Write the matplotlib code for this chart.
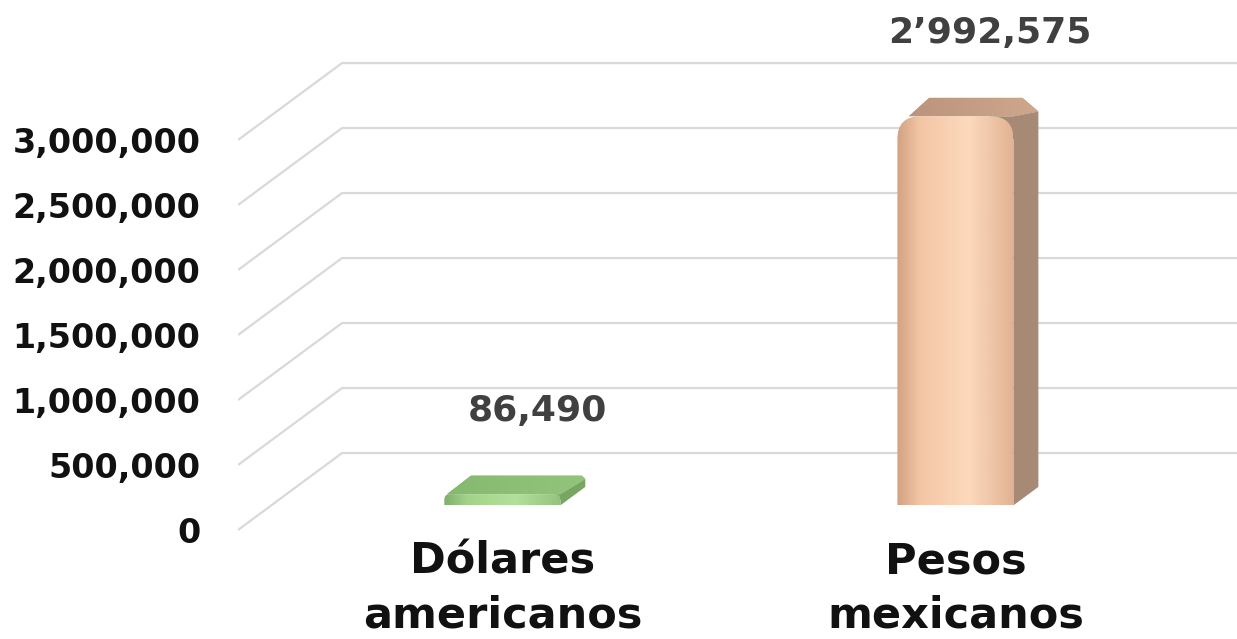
import numpy as np
import matplotlib
matplotlib.use("Agg")
import matplotlib.pyplot as plt
from matplotlib.patches import FancyBboxPatch, Polygon
from matplotlib.colors import LinearSegmentedColormap

# ==== DATA ====
categories = ["Dólares\namericanos", "Pesos\nmexicanos"]
values = [86490, 2992575]
value_labels = ["86,490", "2’992,575"]
yticks = [0, 500000, 1000000, 1500000, 2000000, 2500000, 3000000]
ytick_labels = ["0", "500,000", "1,000,000", "1,500,000", "2,000,000", "2,500,000", "3,000,000"]

# ==== STYLE ====
front_cols = [["#7fae69", "#a3d38b", "#b2e09a", "#95c47e"],
              ["#d2a283", "#f3c6a5", "#fdd9bd", "#e2b393"]]
top_cols = [["#86b970", "#93c47c"], ["#b8927a", "#cfa78c"]]
side_cols = ["#78a562", "#a68a75"]

DX = 0.2296      # depth of floor in x units
DY = 592000      # depth of floor in value units
D0 = 0.32        # bar start depth (fraction)
BD = 0.24        # bar depth (fraction)
W = 0.256        # bar width
ASP = 7692 * 453  # value units per x unit on screen

fig = plt.figure(figsize=(12.37, 6.39), dpi=100)
fig.patch.set_facecolor("white")
ax = fig.add_axes([238 / 1237, 0, 1 - 238 / 1237, 1])
ax.set_facecolor("none")
ax.set_xlim(-0.51, 1.695)
ax.set_ylim(-838500, 4077000)
for s in ax.spines.values():
    s.set_visible(False)
ax.set_xticks([])
ax.set_yticks(yticks)
ax.set_yticklabels(ytick_labels, fontsize=24, fontweight="bold", color="#111111")
ax.tick_params(axis="y", length=0, pad=27)

# perspective gridlines
x_left, x_right = ax.get_xlim()
for v in yticks:
    ax.plot([x_left, x_left + DX, x_right], [v, v + DY, v + DY],
            color="#d9d9d9", lw=1.6, zorder=1, solid_capstyle="butt")

grad = np.linspace(0, 1, 256).reshape(1, -1)

# bars
for i, (v, lab) in enumerate(zip(values, value_labels)):
    x0 = i + D0 * DX - W / 2
    y0 = D0 * DY
    bx, by = BD * DX, BD * DY
    r = min(0.05, v / ASP / 2 * 0.95)
    top_back = y0 + v + by
    ry = r * ASP

    # side face (small tab under the rounded front corner)
    side = Polygon([(x0 + W, y0), (x0 + W + bx, y0 + by),
                    (x0 + W + bx, top_back - ry * 0.6),
                    (x0 + W, y0 + v), (x0 + W - r, y0 + v),
                    (x0 + W - r, y0 + v - ry), (x0 + W, y0 + v - ry)],
                   closed=True, fc=side_cols[i], ec="none", zorder=3)
    ax.add_patch(side)

    # top face (rounded back)
    top = Polygon([(x0 + r * 0.5, y0 + v), (x0 + W, y0 + v),
                   (x0 + W + bx, top_back - ry * 0.6),
                   (x0 + W + bx - r * 0.7, top_back),
                   (x0 + bx + r * 0.3, top_back)],
                  closed=True, fc=top_cols[i][0], ec="none", zorder=3)
    ax.add_patch(top)
    tcmap = LinearSegmentedColormap.from_list("t%d" % i, top_cols[i])
    tim = ax.imshow(grad, cmap=tcmap, aspect="auto",
                    extent=(x0, x0 + W + bx, y0 + v, top_back),
                    zorder=3, interpolation="bilinear")
    tim.set_clip_path(top)

    # front face with gradient, rounded on top only
    box = FancyBboxPatch((x0, y0 - ry), W, v + ry,
                         boxstyle=f"round,pad=0,rounding_size={r}",
                         mutation_aspect=ASP, fc="none", ec="none", zorder=4)
    ax.add_patch(box)
    cmap = LinearSegmentedColormap.from_list(
        "g%d" % i, list(zip([0, 0.2, 0.62, 1.0], front_cols[i])))
    im = ax.imshow(grad, cmap=cmap, aspect="auto",
                   extent=(x0, x0 + W, y0, y0 + v), zorder=4, interpolation="bilinear")
    im.set_clip_path(box)

    # value label
    ax.text(i + 0.15, top_back + 500000, lab, ha="center", va="center",
            fontsize=26, fontweight="bold", color="#404040", zorder=5)

    # category labels
    lines = categories[i].split("\n")
    for k, line in enumerate(lines):
        ax.text(i + D0 * DX, -246000 - k * 408000, line, ha="center", va="center",
                fontsize=31, fontweight="bold", color="#111111", zorder=5)

ax.set_xlim(x_left, x_right)
ax.set_ylim(-838500, 4077000)
fig.savefig("out.png", dpi=100)
